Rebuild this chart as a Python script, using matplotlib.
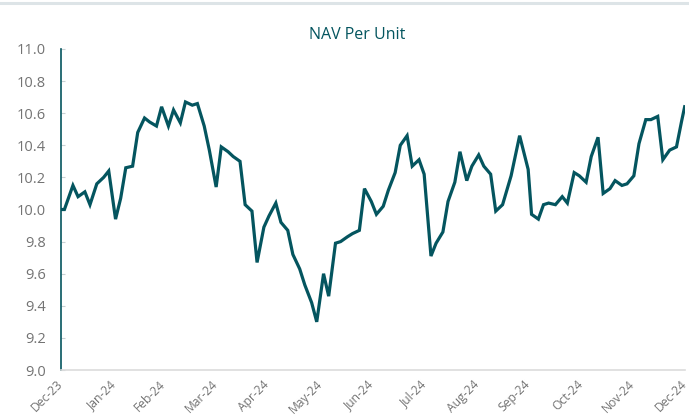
import matplotlib
matplotlib.use("Agg")
import matplotlib.pyplot as plt
from matplotlib.lines import Line2D
import pandas as pd

title = "NAV Per Unit"

dates = [
    "2023-12-31", "2024-01-02", "2024-01-07", "2024-01-10", "2024-01-14", "2024-01-17",
    "2024-01-21", "2024-01-25", "2024-01-28", "2024-02-01", "2024-02-04", "2024-02-07",
    "2024-02-11", "2024-02-14", "2024-02-18", "2024-02-21", "2024-02-25", "2024-02-28",
    "2024-03-03", "2024-03-06", "2024-03-10", "2024-03-13", "2024-03-17", "2024-03-20",
    "2024-03-24", "2024-03-27", "2024-03-31", "2024-04-03", "2024-04-07", "2024-04-10",
    "2024-04-14", "2024-04-17", "2024-04-21", "2024-04-24", "2024-04-28", "2024-05-01",
    "2024-05-05", "2024-05-08", "2024-05-12", "2024-05-15", "2024-05-19", "2024-05-22",
    "2024-05-26", "2024-05-29", "2024-06-02", "2024-06-05", "2024-06-09", "2024-06-12",
    "2024-06-16", "2024-06-19", "2024-06-23", "2024-06-26", "2024-06-30", "2024-07-03",
    "2024-07-07", "2024-07-10", "2024-07-14", "2024-07-17", "2024-07-21", "2024-07-24",
    "2024-07-28", "2024-07-31", "2024-08-04", "2024-08-07", "2024-08-11", "2024-08-14",
    "2024-08-18", "2024-08-21", "2024-08-25", "2024-08-28", "2024-09-01", "2024-09-04",
    "2024-09-08", "2024-09-11", "2024-09-15", "2024-09-20", "2024-09-25", "2024-09-30",
    "2024-10-02", "2024-10-06", "2024-10-09", "2024-10-12", "2024-10-16", "2024-10-20",
    "2024-10-23", "2024-10-27", "2024-10-30", "2024-11-03", "2024-11-06", "2024-11-10",
    "2024-11-13", "2024-11-17", "2024-11-20", "2024-11-24", "2024-11-27", "2024-12-01",
    "2024-12-04", "2024-12-08", "2024-12-11", "2024-12-15", "2024-12-18", "2024-12-22",
    "2024-12-26", "2024-12-29", "2024-12-31",
]

nav = [
    10.00, 10.00, 10.15, 10.08, 10.11, 10.03,
    10.16, 10.20, 10.24, 9.94, 10.07, 10.26,
    10.27, 10.48, 10.57, 10.545, 10.52, 10.64,
    10.52, 10.62, 10.54, 10.67, 10.65, 10.66,
    10.52, 10.37, 10.14, 10.39, 10.36, 10.33,
    10.30, 10.03, 9.99, 9.67, 9.89, 9.96,
    10.04, 9.92, 9.87, 9.72, 9.63, 9.53,
    9.42, 9.30, 9.60, 9.46, 9.79, 9.80,
    9.83, 9.85, 9.87, 10.13, 10.05, 9.97,
    10.02, 10.12, 10.23, 10.40, 10.46, 10.27,
    10.31, 10.22, 9.71, 9.79, 9.86, 10.05,
    10.17, 10.36, 10.18, 10.27, 10.34, 10.27,
    10.22, 9.99, 10.03, 10.21, 10.46, 10.25,
    9.97, 9.94, 10.03, 10.04, 10.03, 10.08,
    10.04, 10.23, 10.21, 10.17, 10.33, 10.45,
    10.10, 10.13, 10.18, 10.15, 10.16, 10.21,
    10.41, 10.56, 10.56, 10.58, 10.31, 10.37,
    10.39, 10.55, 10.65,
]

tick_dates = pd.date_range("2023-12-31", "2024-12-31", freq="ME")
tick_labels = [d.strftime("%b-%y") for d in tick_dates]
y_ticks = [9.0, 9.2, 9.4, 9.6, 9.8, 10.0, 10.2, 10.4, 10.6, 10.8, 11.0]

teal = "#04555f"
gray_txt = "#737373"

plt.rcParams["font.family"] = ["Open Sans", "DejaVu Sans"]

fig = plt.figure(figsize=(6.89, 4.16), dpi=100)
ax = fig.add_axes([61 / 689, 1 - 370 / 416, 624 / 689, 321 / 416])

x = pd.to_datetime(dates)
ax.plot(x, nav, color=teal, lw=2.3, solid_joinstyle="miter", solid_capstyle="butt")

ax.set_xlim(pd.Timestamp("2023-12-31"), pd.Timestamp("2024-12-31"))
ax.set_ylim(9.0, 11.0)
ax.set_yticks(y_ticks)
ax.set_yticklabels([f"{v:.1f}" for v in y_ticks])
ax.set_xticks(tick_dates)
ax.set_xticklabels(tick_labels, rotation=45, ha="right", va="center",
                   rotation_mode="anchor")

ax.tick_params(axis="y", direction="in", length=3, width=0.8, color="#c8d0d2",
               labelsize=10.5, labelcolor=gray_txt, pad=11)
ax.tick_params(axis="x", length=0, labelsize=8.7, labelcolor=gray_txt, pad=9)

for s in ["top", "right"]:
    ax.spines[s].set_visible(False)
ax.spines["left"].set_color(teal)
ax.spines["left"].set_linewidth(1.2)
ax.spines["bottom"].set_color("#dcdcdc")
ax.spines["bottom"].set_linewidth(1.2)

fig.text(357 / 689, 1 - 35 / 416, title, ha="center", va="center",
         fontsize=11.5, color=teal)

fig.add_artist(Line2D([0, 1], [1 - 3 / 416, 1 - 3 / 416], transform=fig.transFigure,
                      color="#dde4e7", lw=2.2))

fig.savefig("out.png", dpi=100)
